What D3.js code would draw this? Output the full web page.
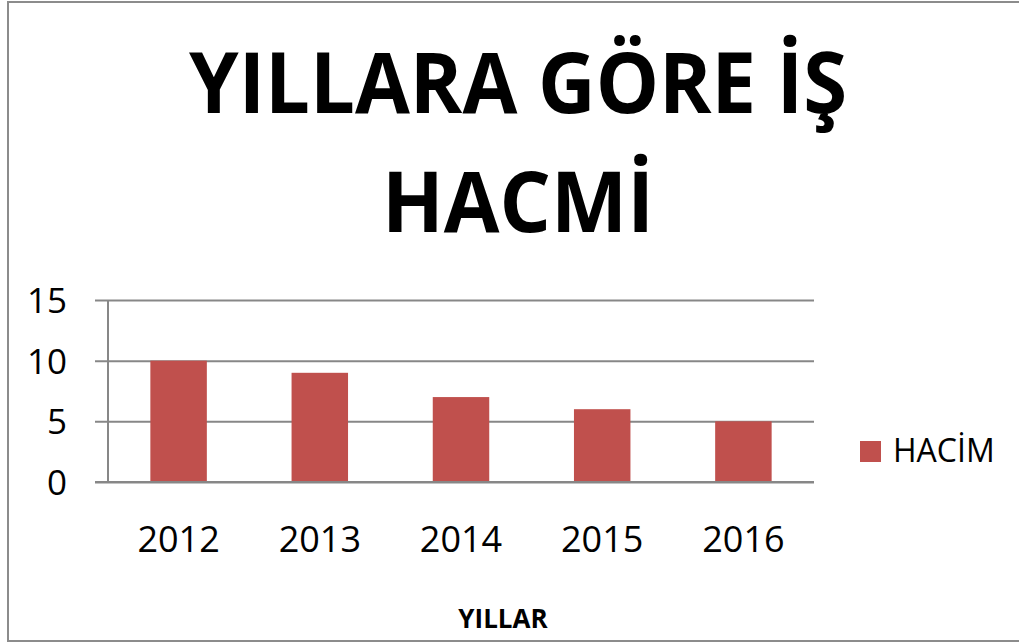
<!DOCTYPE html>
<html lang="tr">
<head>
  <meta charset="UTF-8">
  <title>Yıllara Göre İş Hacmi</title>
  <script src="https://d3js.org/d3.v7.min.js"></script>
  <style>
    body { margin: 0; background: #fff; }
    text { font-family: "Open Sans", "Noto Sans", sans-serif; }
  </style>
</head>
<body>
  <div id="root"></div>
  <script>
    const years = ['2012', '2013', '2014', '2015', '2016']
    const values = [10, 9, 7, 6, 5]
    const yTicks = [0, 5, 10, 15]
    const seriesName = 'HACİM'
    const titleLines = ['YILLARA GÖRE İŞ', 'HACMİ']
    const xTitle = 'YILLAR'

    const width = 1019
    const height = 643
    const dimensions = {
      width: width,
      height: height,
      margin: { top: 300, left: 108, right: 205, bottom: 161 }
    }
    dimensions.boundedWidth = dimensions.width - dimensions.margin.left - dimensions.margin.right
    dimensions.boundedHeight = dimensions.height - dimensions.margin.top - dimensions.margin.bottom

    const barColor = '#c0504d'
    const gridColor = '#878787'

    const wrapper = d3.select('#root')
      .append('svg')
        .attr('width', dimensions.width)
        .attr('height', dimensions.height)

    // outer frame
    wrapper.append('rect')
      .attr('x', 8)
      .attr('y', 2)
      .attr('width', 1030)
      .attr('height', 639)
      .attr('fill', 'none')
      .attr('stroke', '#8c8c8c')
      .attr('stroke-width', 2)

    // title
    wrapper.append('g')
      .selectAll('text')
      .data(titleLines)
      .join('text')
        .attr('x', 518)
        .attr('y', (d, i) => 113 + i * 119)
        .attr('text-anchor', 'middle')
        .attr('font-size', 85)
        .attr('font-weight', 'bold')
        .attr('fill', '#000')
        .attr('textLength', (d, i) => i === 0 ? 658 : 272)
        .attr('lengthAdjust', 'spacingAndGlyphs')
        .text(d => d)

    const bounds = wrapper.append('g')
      .attr('transform', `translate(${dimensions.margin.left}, ${dimensions.margin.top})`)

    const xScale = d3.scaleBand()
      .domain(years)
      .range([0, dimensions.boundedWidth])
      .paddingInner(0.6)
      .paddingOuter(0.3)

    const yScale = d3.scaleLinear()
      .domain([0, 15])
      .range([dimensions.boundedHeight, 0])

    // gridlines + y axis
    const yAxisGenerator = d3.axisLeft(yScale)
      .tickValues(yTicks)
      .tickSize(-dimensions.boundedWidth)
      .tickPadding(41)

    const yAxis = bounds.append('g')
      .call(yAxisGenerator)
    yAxis.select('.domain').remove()
    yAxis.selectAll('.tick line')
      .attr('x1', -13)
      .attr('stroke', gridColor)
      .attr('stroke-width', 2)
    yAxis.selectAll('.tick text')
      .attr('font-size', 35)
      .attr('fill', '#000')
      .attr('dy', '0.36em')

    bounds.append('line')
      .attr('x1', 0)
      .attr('x2', 0)
      .attr('y1', 0)
      .attr('y2', dimensions.boundedHeight)
      .attr('stroke', gridColor)
      .attr('stroke-width', 2)

    // bars
    bounds.selectAll('.bar')
      .data(values)
      .join('rect')
        .attr('class', 'bar')
        .attr('x', (d, i) => xScale(years[i]))
        .attr('y', d => yScale(d))
        .attr('width', xScale.bandwidth())
        .attr('height', d => dimensions.boundedHeight - yScale(d))
        .attr('fill', barColor)

    // x axis labels
    const xAxisGenerator = d3.axisBottom(xScale)
      .tickSize(0)
    const xAxis = bounds.append('g')
      .attr('transform', `translate(0, ${dimensions.boundedHeight})`)
      .call(xAxisGenerator)
    xAxis.select('.domain')
      .attr('stroke', gridColor)
      .attr('stroke-width', 2)
      .attr('d', `M-13,0H${dimensions.boundedWidth}`)
    xAxis.selectAll('.tick text')
      .attr('font-size', 36)
      .attr('fill', '#000')
      .attr('dy', 0)
      .attr('y', 70)

    // x axis title
    wrapper.append('text')
      .attr('x', 503)
      .attr('y', 628)
      .attr('text-anchor', 'middle')
      .attr('font-size', 26)
      .attr('font-weight', 'bold')
      .attr('fill', '#000')
      .text(xTitle)

    // legend
    const legend = wrapper.append('g')
      .attr('transform', 'translate(860, 441)')
    legend.append('rect')
      .attr('width', 21)
      .attr('height', 21)
      .attr('fill', barColor)
    legend.append('text')
      .attr('x', 33)
      .attr('y', 21)
      .attr('font-size', 32)
      .attr('fill', '#000')
      .text(seriesName)
  </script>
</body>
</html>
